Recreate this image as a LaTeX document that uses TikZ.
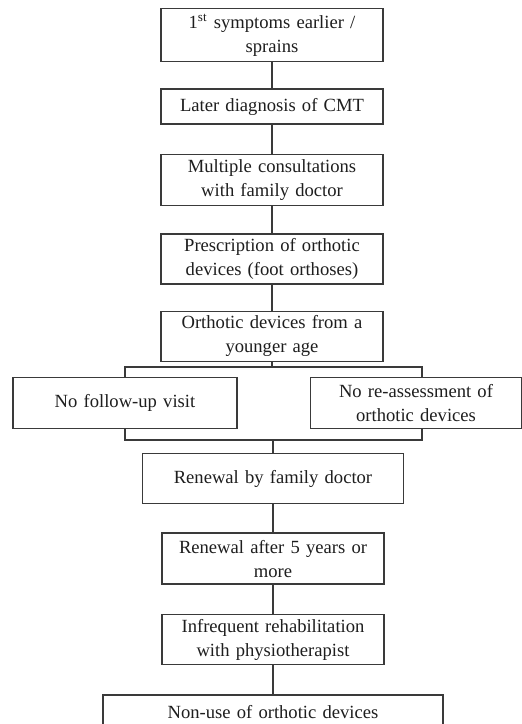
\documentclass[tikz,border=0pt]{standalone}
\usepackage{fontspec}
\setmainfont{Liberation Serif}
\usepackage{tikz}
\usepackage{xcolor}
\usetikzlibrary{positioning}
\definecolor{flowLine}{HTML}{3A3A3A}
\definecolor{flowText}{HTML}{1E1E1E}

\begin{document}
\begin{tikzpicture}[
        every node/.style={font=\fontsize{9.3}{12}\selectfont,text=flowText},
        box/.style={rectangle,draw=flowLine,fill=white,line width=0.7pt,
                    minimum width=111pt,text width=106pt,inner sep=1pt,
                    align=center},
        wide/.style={box,minimum width=130.5pt,text width=126pt},
        side/.style={box,minimum width=112pt,text width=106pt},
        last/.style={box,minimum width=170pt,text width=164pt,line width=1.1pt},
        link/.style={draw=flowLine,line width=0.7pt}
      ]
        \useasboundingbox (0,0) rectangle (261pt,-362pt);
        \node[box,anchor=north,minimum height=26.5pt] (b1) at (136pt,-4pt)
          {1\textsuperscript{st} symptoms earlier /\\sprains};
        \node[box,below=13pt of b1,minimum height=17.5pt] (b2)
          {Later diagnosis of CMT};
        \node[box,below=14.5pt of b2,minimum height=25.5pt] (b3)
          {Multiple consultations\\with family doctor};
        \node[box,below=13.5pt of b3,minimum height=25pt] (b4)
          {Prescription of orthotic\\devices (foot orthoses)};
        \node[box,below=13pt of b4,minimum height=25pt] (b5)
          {Orthotic devices from a\\younger age};
        \node[side,anchor=north,minimum height=25.5pt] (noFollow) at (62.5pt,-188.5pt)
          {No follow-up visit};
        \node[side,anchor=north,minimum width=105.5pt,text width=100pt,
              minimum height=25.5pt] (noReassess) at (208pt,-188.5pt)
          {No re-assessment of\\orthotic devices};
        \node[wide,anchor=north,minimum height=25pt] (renew1) at (136.5pt,-226.5pt)
          {Renewal by family doctor};
        \node[box,below=14pt of renew1,minimum height=25.5pt] (renew5)
          {Renewal after 5 years or\\more};
        \node[box,below=14.5pt of renew5,minimum height=25pt] (rehab)
          {Infrequent rehabilitation\\with physiotherapist};
        \node[last,below=14.5pt of rehab,minimum height=16.5pt] (nonUse)
          {Non-use of orthotic devices};
        \coordinate (split) at (136pt,-183.5pt);
        \coordinate (splitR) at (211pt,-183.5pt);
        \coordinate (join) at (136.5pt,-220pt);
        \coordinate (joinR) at (211pt,-220pt);
        \draw[link] (b1)--(b2);
        \draw[link] (b2)--(b3);
        \draw[link] (b3)--(b4);
        \draw[link] (b4)--(b5);
        \draw[link] (b5.south)--(split);
        \draw[link] (noFollow.north)|-(splitR)--(splitR|-noReassess.north);
        \draw[link] (noFollow.south)|-(joinR)--(joinR|-noReassess.south);
        \draw[link] (join)--(join|-renew1.north);
        \draw[link] (renew1)--(renew5);
        \draw[link] (renew5)--(rehab);
        \draw[link] (rehab)--(nonUse);
      \end{tikzpicture}
\end{document}
